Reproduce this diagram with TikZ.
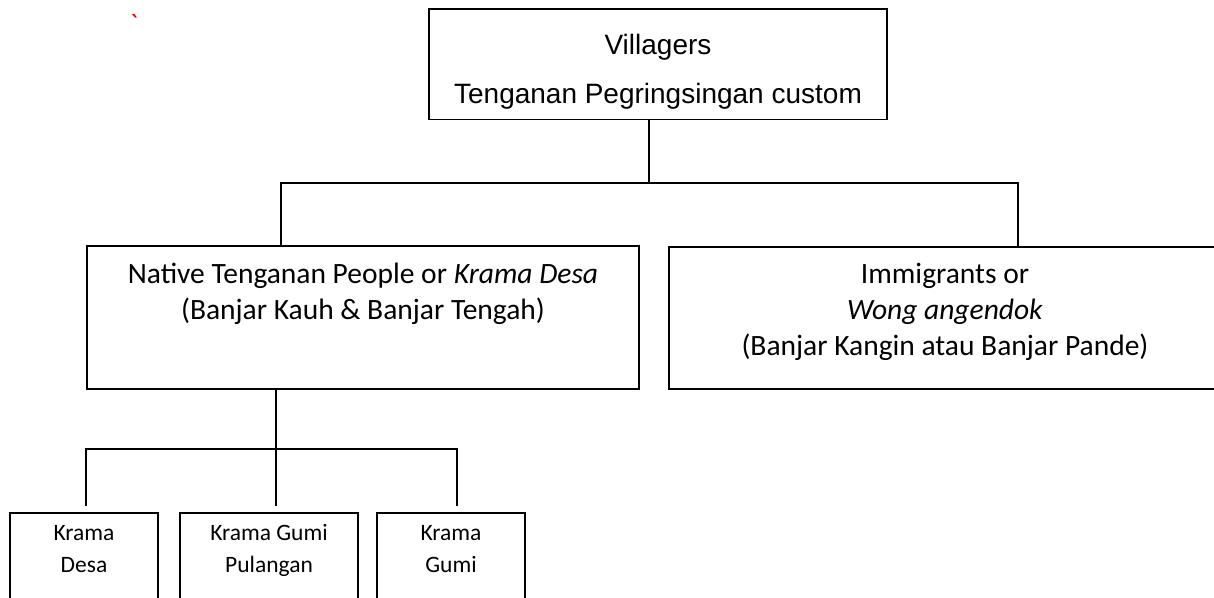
\documentclass[tikz,border=0pt]{standalone}
\usepackage{fontspec}
\setmainfont{Carlito}
\newfontfamily\arialfont{Liberation Sans}

\begin{document}
\begin{tikzpicture}[x=1pt, y=-1pt,
    line width=1.6pt,
    box/.style = {
      draw,
      rectangle,
      align=center,
      anchor=north,
      inner xsep=0pt,
      inner ysep=0pt
    },
    bigtext/.style = {font=\fontsize{29.5}{36}\selectfont},
    smalltext/.style = {font=\fontsize{23.5}{32}\selectfont}
  ]
  \useasboundingbox (0,0) rectangle (1214,597);

  \node[text=red, font=\fontsize{28}{28}\selectfont] (tick) at (134,24) {\textasciigrave};

  \node[box, minimum width=458pt, font=\arialfont\fontsize{28}{49}\selectfont,
    text height=95pt, text depth=15.5pt] (villagers) at (658,8)
    {Villagers\\Tenganan Pegringsingan custom};

  \node[box, bigtext, minimum width=552pt, text height=74pt, text depth=69pt]
    (native) at (363,245)
    {Native Tenganan People or \textit{Krama Desa}\\(Banjar Kauh \& Banjar Tengah)};
  \node[box, bigtext, minimum width=552pt, text height=109pt, text depth=33pt]
    (immig) at (945,246)
    {Immigrants or\\\textit{Wong angendok}\\(Banjar Kangin atau Banjar Pande)};

  \node[box, smalltext, minimum width=148pt, text height=60pt, text depth=88pt]
    (desa) at (84,512) {Krama\\Desa};
  \node[box, smalltext, minimum width=178pt, text height=60pt, text depth=88pt]
    (pulangan) at (269,512) {Krama Gumi\\Pulangan};
  \node[box, smalltext, minimum width=148pt, text height=60pt, text depth=88pt]
    (gumi) at (451,512) {Krama\\Gumi};

  \coordinate (hub) at (649,183);
  \coordinate (hub2) at (276,449);

  % upper level
  \draw ([xshift=-9pt]villagers.south) -- (hub);
  \draw ([xshift=-82pt]native.north) |- (hub) -| ([xshift=73pt]immig.north);

  % lower level
  \draw[shorten >=6pt] ([xshift=-87pt]native.south) -- ([xshift=7pt]pulangan.north);
  \draw[shorten <=6pt, shorten >=6pt] ([xshift=2pt]desa.north) |- (hub2) -| ([xshift=6pt]gumi.north);
\end{tikzpicture}
\end{document}
